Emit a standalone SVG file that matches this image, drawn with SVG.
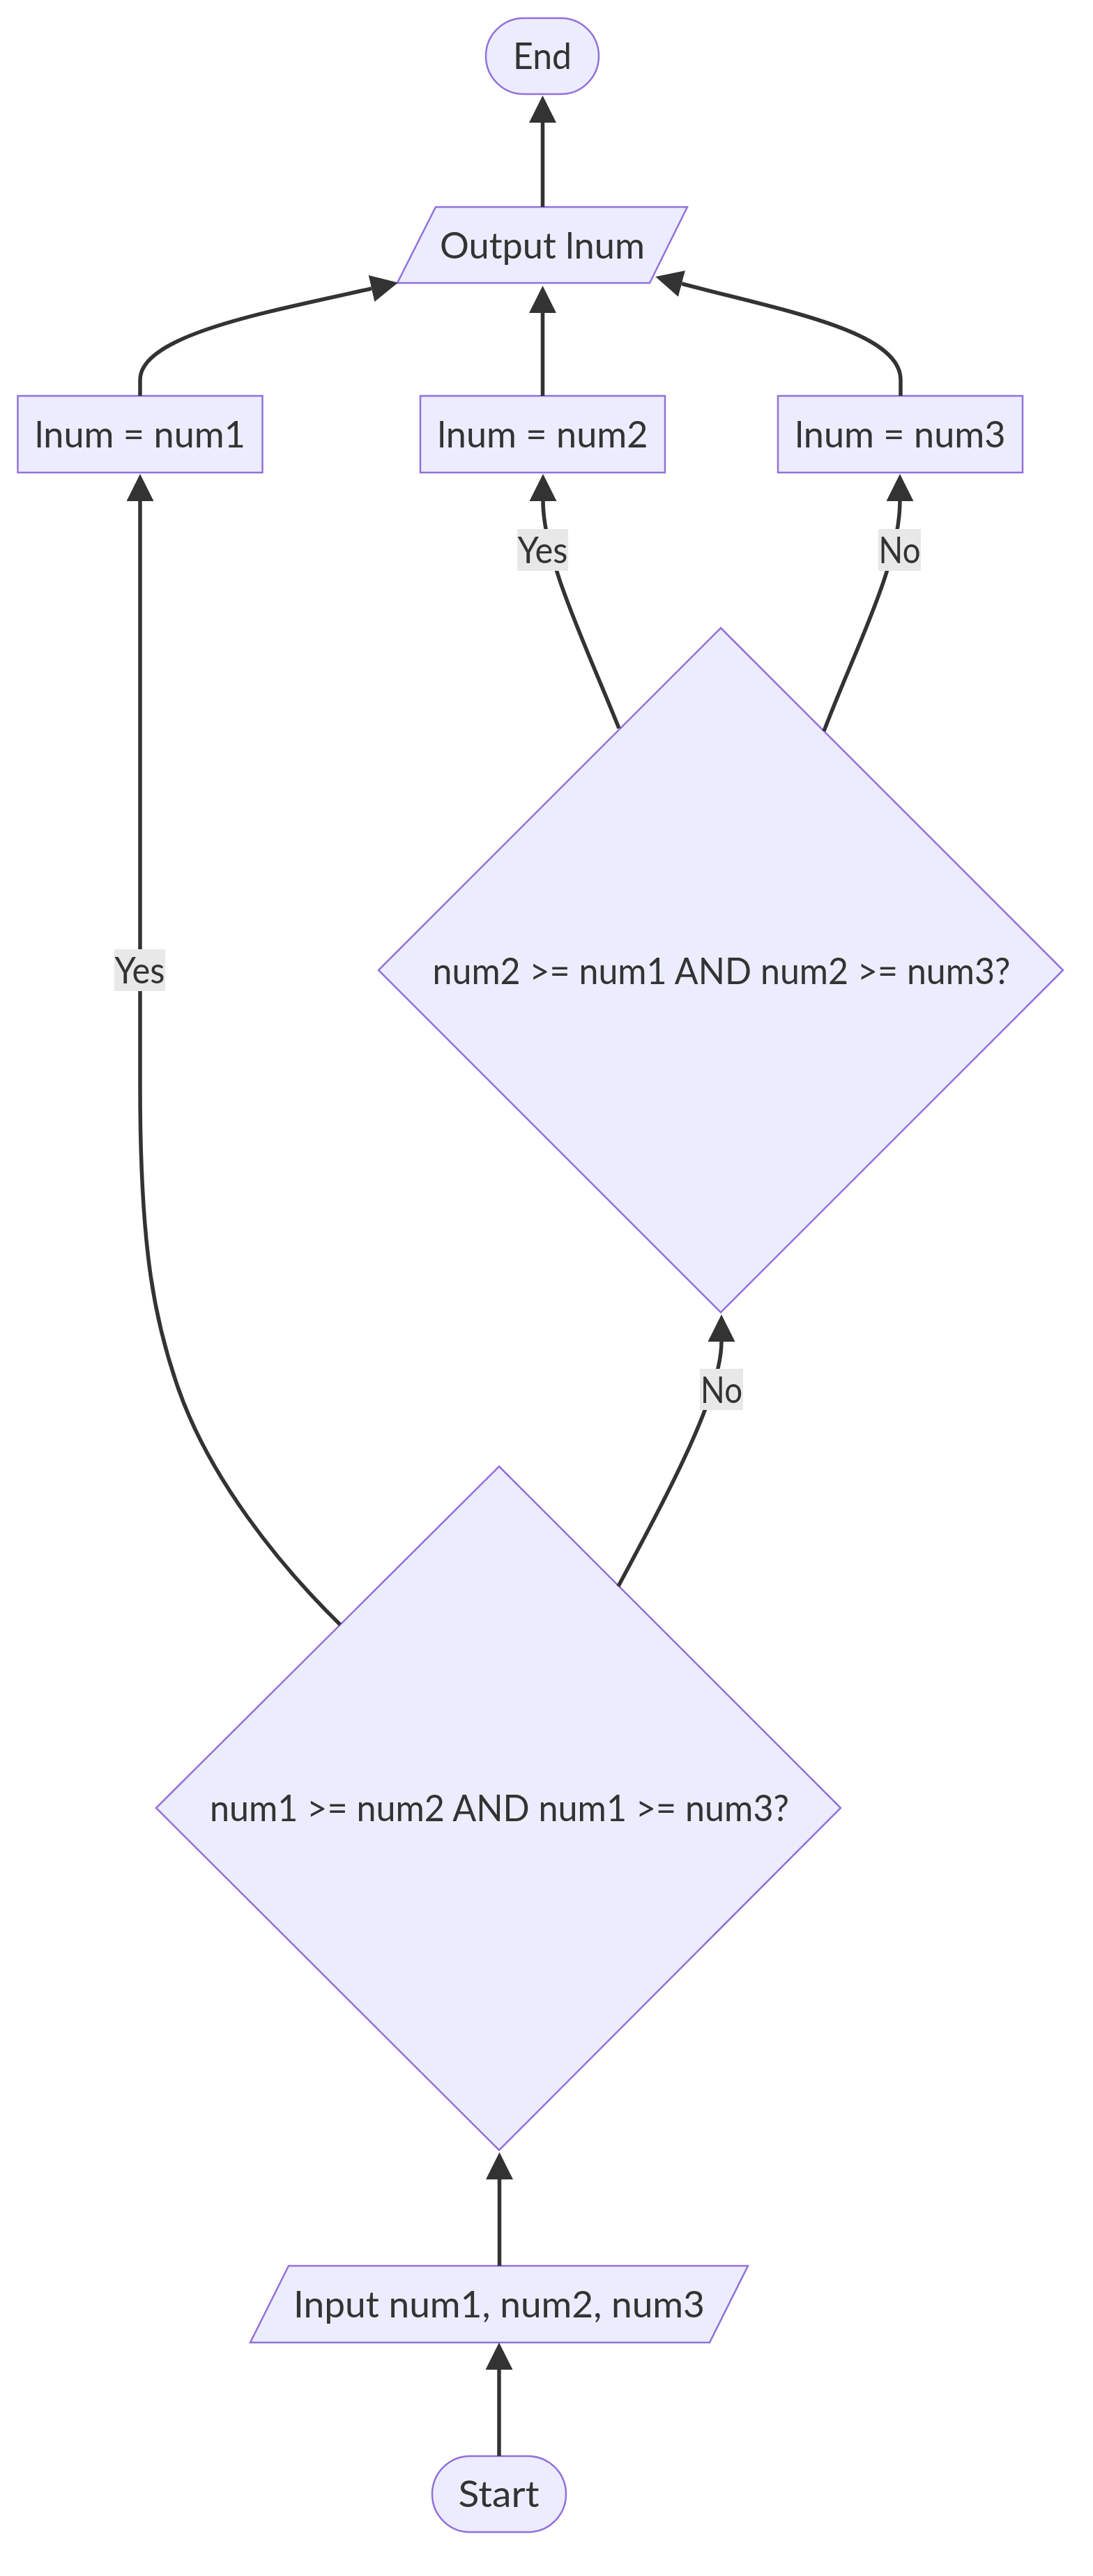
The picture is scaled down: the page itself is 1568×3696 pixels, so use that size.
<svg xmlns="http://www.w3.org/2000/svg" width="1568" height="3696" viewBox="0 0 1568 3696">
<defs>
<style>
.node{fill:#ECECFF;stroke:#9370DB;stroke-width:2.5}
.lbl{font-family:Lato,"Noto Sans","DejaVu Sans",sans-serif;font-size:53px;fill:#333;text-anchor:middle}
.edge{fill:none;stroke:#333;stroke-width:5.5}
.elbg{fill:#e8e8e8}
</style>
<marker id="arrow" viewBox="0 0 10 10" refX="0" refY="5" markerWidth="39" markerHeight="39" markerUnits="userSpaceOnUse" orient="auto">
<path d="M0,0 L10,5 L0,10 z" fill="#333"/>
</marker>
</defs>
<rect width="1568" height="3696" fill="#fff"/>
<g id="nodes">
<g id="end"><rect class="node" x="697" y="26" width="162" height="109" rx="54.5" ry="54.5"/><text class="lbl" x="778" y="99" textLength="84" lengthAdjust="spacingAndGlyphs">End</text></g>
<g id="output"><polygon class="node" points="625,297 986,297 932,406 570,406"/><text class="lbl" x="778" y="371" textLength="294" lengthAdjust="spacingAndGlyphs">Output lnum</text></g>
<g id="assign1"><rect class="node" x="25.5" y="568" width="351" height="110"/><text class="lbl" x="201" y="642" textLength="302" lengthAdjust="spacingAndGlyphs">lnum = num1</text></g>
<g id="assign2"><rect class="node" x="603" y="568" width="351" height="110"/><text class="lbl" x="778.5" y="642" textLength="302" lengthAdjust="spacingAndGlyphs">lnum = num2</text></g>
<g id="assign3"><rect class="node" x="1116" y="568" width="351" height="110"/><text class="lbl" x="1291.5" y="642" textLength="302" lengthAdjust="spacingAndGlyphs">lnum = num3</text></g>
<g id="decision2"><polygon class="node" points="1034,901 1525,1392 1034,1883 543,1392"/><text class="lbl" x="1035" y="1412" textLength="829" lengthAdjust="spacingAndGlyphs">num2 &gt;= num1 AND num2 &gt;= num3?</text></g>
<g id="decision1"><polygon class="node" points="716,2104 1206,2594 716,3085 224,2594"/><text class="lbl" x="716.5" y="2613" textLength="831" lengthAdjust="spacingAndGlyphs">num1 &gt;= num2 AND num1 &gt;= num3?</text></g>
<g id="input"><polygon class="node" points="414,3251 1073,3251 1018,3361 359,3361"/><text class="lbl" x="716" y="3325" textLength="590" lengthAdjust="spacingAndGlyphs">Input num1, num2, num3</text></g>
<g id="start"><rect class="node" x="620" y="3524" width="192" height="109" rx="54.5" ry="54.5"/><text class="lbl" x="715.5" y="3597" textLength="116" lengthAdjust="spacingAndGlyphs">Start</text></g>
</g>
<g id="connectors">
<path class="edge" marker-end="url(#arrow)" d="M716,3524 L716,3400"/>
<path class="edge" marker-end="url(#arrow)" d="M716.5,3251 L716.5,3127"/>
<path class="edge" marker-end="url(#arrow)" d="M887,2276 C960,2140 1035,2000 1035,1925"/>
<path class="edge" marker-end="url(#arrow)" d="M488,2331 C400,2245 300,2120 255,1990 C223.5,1899 201,1800 201,1560 L201,719"/>
<path class="edge" marker-end="url(#arrow)" d="M888,1045 C840,925 779,800 779,719"/>
<path class="edge" marker-end="url(#arrow)" d="M1182,1049 C1225,935 1291,810 1291,719"/>
<path class="edge" marker-end="url(#arrow)" d="M201,568 L201,545 C201,480 387,447 533,414"/>
<path class="edge" marker-end="url(#arrow)" d="M1292,568 L1292,545 C1292,475 1123,445.5 978,407"/>
<path class="edge" marker-end="url(#arrow)" d="M778.5,568 L778.5,449"/>
<path class="edge" marker-end="url(#arrow)" d="M778.5,297 L778.5,176"/>
</g>
<g id="edge-labels">
<g id="label-yes1"><rect class="elbg" x="164" y="1362" width="73" height="60"/><text class="lbl" x="200.5" y="1411" textLength="72" lengthAdjust="spacingAndGlyphs">Yes</text></g>
<g id="label-yes2"><rect class="elbg" x="742" y="759" width="73" height="60"/><text class="lbl" x="778.5" y="808" textLength="72" lengthAdjust="spacingAndGlyphs">Yes</text></g>
<g id="label-no3"><rect class="elbg" x="1260" y="759" width="61" height="60"/><text class="lbl" x="1290.5" y="808" textLength="60" lengthAdjust="spacingAndGlyphs">No</text></g>
<g id="label-no4"><rect class="elbg" x="1004" y="1964" width="62" height="59"/><text class="lbl" x="1035" y="2013" textLength="60" lengthAdjust="spacingAndGlyphs">No</text></g>
</g>
</svg>
